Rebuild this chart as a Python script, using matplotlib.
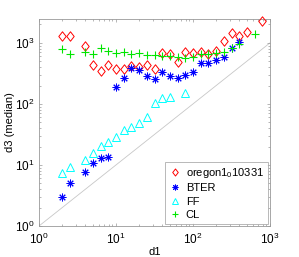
import numpy as np
import matplotlib
matplotlib.use("Agg")
import matplotlib.pyplot as plt
from matplotlib.path import Path

plt.rcParams['font.family'] = ['Liberation Sans', 'DejaVu Sans']
plt.rcParams['mathtext.fontset'] = 'custom'
plt.rcParams['mathtext.rm'] = 'Liberation Sans'
plt.rcParams['mathtext.it'] = 'Liberation Sans'

# log-bin exponent index k -> d1 = 10**(k/10)
oregon_k = [3, 4, 6, 7, 8, 9, 10, 11, 12, 13, 14, 15, 16, 17, 18, 19, 20, 21, 22, 23, 24, 25, 26, 27, 29]
oregon_y = [1303, 1303, 903, 436, 341, 436, 375, 375, 420, 408, 436, 375, 693, 653, 488, 704,
            678, 720, 660, 739, 1078, 1443, 1303, 1532, 2320]

bter_k = [3, 4, 6, 7, 8, 9, 10, 11, 12, 13, 14, 15, 16, 17, 18, 19, 20, 21, 22, 23, 24, 25, 26]
bter_y = [3.02, 5.0, 7.6, 10.9, 13.2, 13.7, 186, 270, 389, 361, 288, 252, 335, 288, 262, 293,
          328, 465, 465, 526, 596, 819, 1038]

ff_k = [3, 4, 6, 7, 8, 9, 10, 11, 12, 13, 14, 15, 16, 17, 19]
ff_y = [7.3, 9.4, 12.1, 15.9, 20.3, 23.8, 28.2, 37.5, 41.2, 48.3, 62, 103, 127, 129, 153]

cl_k = [3, 4, 6, 7, 8, 9, 10, 11, 12, 13, 14, 15, 16, 17, 18, 19, 20, 21, 22, 23, 24, 25, 26, 28]
cl_y = [797, 648, 720, 660, 813, 726, 673, 699, 660, 685, 636, 636, 612, 601, 578, 557, 596,
        653, 660, 678, 720, 813, 945, 1390]

labels = ['oregon1$_0$10331', 'BTER', 'FF', 'CL']


def kx(k):
    return 10 ** (np.array(k) / 10.0)


diamond = Path([(0, 1), (0.78, 0), (0, -1), (-0.78, 0), (0, 1)],
               [Path.MOVETO, Path.LINETO, Path.LINETO, Path.LINETO, Path.CLOSEPOLY])

fig = plt.figure(figsize=(2.99, 2.57), dpi=100)
ax = fig.add_axes([39 / 299, 31 / 257, 231 / 299, 207 / 257])

ax.plot([1, 1000], [1, 1000], color='0.78', lw=0.6, zorder=1)

ax.plot(kx(oregon_k), oregon_y, linestyle='none', marker=diamond, ms=6.8, mfc='none',
        mec=(1, 0, 0), mew=0.7, label=labels[0], clip_on=False, zorder=3)
ax.plot(kx(bter_k), bter_y, linestyle='none', marker=(8, 2, 0), ms=5.5,
        mec=(0, 0, 1), mew=0.7, label=labels[1], clip_on=False, zorder=3)
ax.plot(kx(ff_k), ff_y, linestyle='none', marker='^', ms=5.2, mfc='none',
        mec=(0, 1, 1), mew=0.7, label=labels[2], clip_on=False, zorder=3)
ax.plot(kx(cl_k), cl_y, linestyle='none', marker='+', ms=5.5,
        mec=(0, 0.9, 0), mew=0.8, label=labels[3], clip_on=False, zorder=3)

ax.set_xscale('log')
ax.set_yscale('log')
ax.set_xlim(1, 1000)
ax.set_ylim(1, 2460)
ax.set_xticks([1, 10, 100, 1000])
ax.set_yticks([1, 10, 100, 1000])

for s in ax.spines.values():
    s.set_color('0.6')
    s.set_linewidth(0.6)
ax.tick_params(which='both', direction='in', top=True, right=True, color='0.6', width=0.5)
ax.tick_params(which='major', length=2.5, labelsize=8.5)
ax.tick_params(axis='x', which='major', pad=4.5)
ax.tick_params(axis='y', which='major', pad=3)
ax.tick_params(which='minor', length=1.5)

ax.set_xlabel('d1', fontsize=8, labelpad=0)
ax.set_ylabel('d3 (median)', fontsize=8, labelpad=0)

leg = ax.legend(loc='lower right', bbox_to_anchor=(0.99, 0.01), borderaxespad=0,
                fontsize=8, frameon=True, fancybox=False, edgecolor='0.6',
                handlelength=1.0, handletextpad=0.5, markerscale=0.75,
                labelspacing=0.3, borderpad=0.35)
leg.get_frame().set_linewidth(0.6)

fig.savefig('out.png', dpi=100)
